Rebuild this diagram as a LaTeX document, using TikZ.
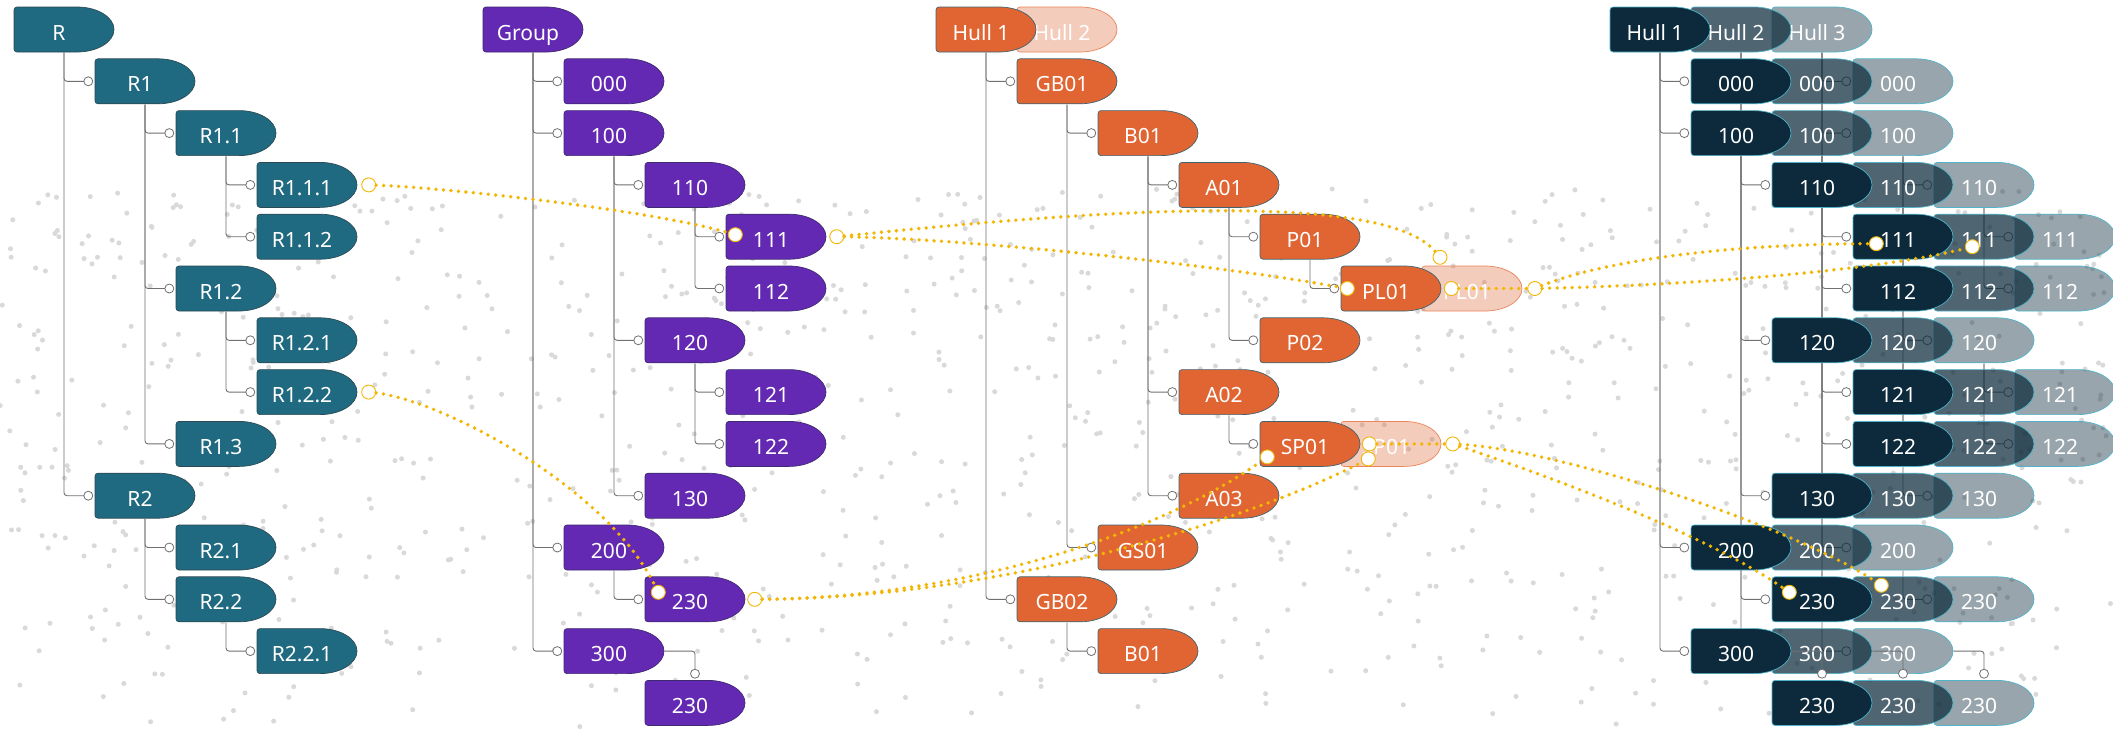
\documentclass[tikz,border=0pt]{standalone}
\usepackage{fontspec}
\usetikzlibrary{calc}
\newfontfamily\boxfont{Noto Sans}
\newcommand\boxtext{\boxfont\fontsize{21}{25}\selectfont}

\definecolor{tealbox}{HTML}{1F6A80}
\definecolor{tealedge}{HTML}{2C4A55}
\definecolor{purplebox}{HTML}{6429B2}
\definecolor{purpleedge}{HTML}{3E2A70}
\definecolor{orangebox}{HTML}{E06533}
\definecolor{orangeedge}{HTML}{3F6470}
\definecolor{ghostedge}{HTML}{EA855C}
\definecolor{navybox}{HTML}{0C2A3B}
\definecolor{navyedge}{HTML}{4FB4C9}
\definecolor{linkgray}{HTML}{707070}
\definecolor{dotyellow}{HTML}{F2B705}

\tikzset{
  box/.style n args={3}{minimum width=101pt, minimum height=46pt, inner sep=0pt,
    text=white, text height=21pt, text depth=0pt, font=\boxtext,
    execute at begin node={\hspace*{-10pt}},
    path picture={
      \coordinate (pc) at (path picture bounding box.center);
      \path[fill=#1, fill opacity=#3, draw=#2, line width=0.7pt]
        ($(pc)+(13pt,22.5pt)$) -- ($(pc)+(-47pt,22.5pt)$)
        .. controls ($(pc)+(-48.7pt,22.5pt)$) and ($(pc)+(-50pt,21.2pt)$) .. ($(pc)+(-50pt,19.5pt)$)
        -- ($(pc)+(-50pt,-19.5pt)$)
        .. controls ($(pc)+(-50pt,-21.2pt)$) and ($(pc)+(-48.7pt,-22.5pt)$) .. ($(pc)+(-47pt,-22.5pt)$)
        -- ($(pc)+(13pt,-22.5pt)$)
        .. controls ($(pc)+(33.4pt,-22.5pt)$) and ($(pc)+(50pt,-12.4pt)$) .. ($(pc)+(50pt,0pt)$)
        .. controls ($(pc)+(50pt,12.4pt)$) and ($(pc)+(33.4pt,22.5pt)$) .. cycle;}},
  teal box/.style={box={tealbox}{tealedge}{1}},
  purple box/.style={box={purplebox}{purpleedge}{1}},
  orange box/.style={box={orangebox}{orangeedge}{1}},
  ghost box/.style={box={orangebox}{ghostedge}{0.33}},
  hull box/.style={box={navybox}{navyedge}{#1}},
  hull box/.default=1,
  strong/.style={font=\boxtext\bfseries},
  link/.style={draw=linkgray, line width=0.9pt, rounded corners=3pt},
  port/.style={circle, draw=linkgray, fill=white, line width=0.8pt, inner sep=0pt, minimum size=9pt},
  yport/.style={circle, draw=dotyellow, fill=white, line width=0.9pt, inner sep=0pt, minimum size=14pt},
  yline/.style={draw=dotyellow, line width=3.8pt, line cap=round, dash pattern=on 0pt off 7.5pt},
  speck/.style={fill=black!15}
}

% child hangs off the parent's stem
\newcommand\treelink[2]{\draw[link] (#1.south) |- ([xshift=-6pt]#2.west) node[port] (#2-in) {};}
% child hangs off the parent's right tip
\newcommand\tiplink[2]{\draw[link] (#1.east) -| ([yshift=6pt]#2.north) node[port] (#2-in) {};}

\newcommand\hulltree[3]{%
  \node[#2] (#1-top) at (0,0) {#3};
  \node[#2] (#1-000) at (1,1) {000};
  \node[#2] (#1-100) at (1,2) {100};
  \node[#2] (#1-110) at (2,3) {110};
  \node[#2] (#1-111) at (3,4) {111};
  \node[#2] (#1-112) at (3,5) {112};
  \node[#2] (#1-120) at (2,6) {120};
  \node[#2] (#1-121) at (3,7) {121};
  \node[#2] (#1-122) at (3,8) {122};
  \node[#2] (#1-130) at (2,9) {130};
  \node[#2] (#1-200) at (1,10) {200};
  \node[#2] (#1-230) at (2,11) {230};
  \node[#2] (#1-300) at (1,12) {300};
  \node[#2] (#1-230b) at (2,13) {230};
  \treelink{#1-top}{#1-000}
  \treelink{#1-top}{#1-100}
  \treelink{#1-top}{#1-200}
  \treelink{#1-top}{#1-300}
  \treelink{#1-100}{#1-110}
  \treelink{#1-100}{#1-120}
  \treelink{#1-100}{#1-130}
  \treelink{#1-110}{#1-111}
  \treelink{#1-110}{#1-112}
  \treelink{#1-120}{#1-121}
  \treelink{#1-120}{#1-122}
  \treelink{#1-200}{#1-230}
  \tiplink{#1-300}{#1-230b}
}

\begin{document}
\begin{tikzpicture}[x=1pt, y=-1pt]
  %%%%% BACKGROUND %%%%%
  \fill[white] (0,0) rectangle (2113,729);
  \useasboundingbox (0,0) rectangle (2113,729);
  \pgfmathsetseed{729}
  \foreach \i in {1,...,1100}{
    \pgfmathsetmacro\px{2113*rnd}
    \pgfmathsetmacro\py{729-540*rnd^0.8}
    \fill[speck] (\px,\py) circle[radius=2.5pt];
  }

  %%%%% R TREE %%%%%
  \begin{scope}[shift={(64,29.5)}, x=81pt, y=-51.8pt]
    \node[teal box] (R) at (0,0) {R};
    \node[teal box] (R1) at (1,1) {R1};
    \node[teal box] (R11) at (2,2) {R1.1};
    \node[teal box] (R111) at (3,3) {R1.1.1};
    \node[teal box] (R112) at (3,4) {R1.1.2};
    \node[teal box] (R12) at (2,5) {R1.2};
    \node[teal box] (R121) at (3,6) {R1.2.1};
    \node[teal box] (R122) at (3,7) {R1.2.2};
    \node[teal box] (R13) at (2,8) {R1.3};
    \node[teal box] (R2) at (1,9) {R2};
    \node[teal box] (R21) at (2,10) {R2.1};
    \node[teal box] (R22) at (2,11) {R2.2};
    \node[teal box] (R221) at (3,12) {R2.2.1};
    \treelink{R}{R1}
    \treelink{R}{R2}
    \treelink{R1}{R11}
    \treelink{R1}{R12}
    \treelink{R1}{R13}
    \treelink{R11}{R111}
    \treelink{R11}{R112}
    \treelink{R12}{R121}
    \treelink{R12}{R122}
    \treelink{R2}{R21}
    \treelink{R2}{R22}
    \treelink{R22}{R221}
  \end{scope}

  %%%%% GROUP TREE %%%%%
  \begin{scope}[shift={(533,29.5)}, x=81pt, y=-51.8pt]
    \hulltree{g}{purple box}{Group}
  \end{scope}

  %%%%% HULL TREE (ORANGE) %%%%%
  \begin{scope}[shift={(986,29.5)}, x=81pt, y=-51.8pt]
    \node[ghost box] (o-hull2) at (1,0) {Hull 2};
    \node[ghost box, strong] (o-pl01g) at (6,5) {PL01};
    \node[ghost box, strong] (o-sp01g) at (5,8) {SP01};

    \node[orange box] (o-hull1) at (0,0) {Hull 1};
    \node[orange box] (o-gb01) at (1,1) {GB01};
    \node[orange box] (o-b01) at (2,2) {B01};
    \node[orange box] (o-a01) at (3,3) {A01};
    \node[orange box] (o-p01) at (4,4) {P01};
    \node[orange box, strong] (o-pl01) at (5,5) {PL01};
    \node[orange box] (o-p02) at (4,6) {P02};
    \node[orange box] (o-a02) at (3,7) {A02};
    \node[orange box, strong] (o-sp01) at (4,8) {SP01};
    \node[orange box] (o-a03) at (3,9) {A03};
    \node[orange box, strong] (o-gs01) at (2,10) {GS01};
    \node[orange box] (o-gb02) at (1,11) {GB02};
    \node[orange box] (o-b01b) at (2,12) {B01};
    \treelink{o-hull1}{o-gb01}
    \treelink{o-hull1}{o-gb02}
    \treelink{o-gb01}{o-b01}
    \treelink{o-gb01}{o-gs01}
    \treelink{o-b01}{o-a01}
    \treelink{o-b01}{o-a02}
    \treelink{o-b01}{o-a03}
    \treelink{o-a01}{o-p01}
    \treelink{o-a01}{o-p02}
    \treelink{o-p01}{o-pl01}
    \treelink{o-a02}{o-sp01}
    \treelink{o-gb02}{o-b01b}
  \end{scope}

  %%%%% HULL TREE (NAVY, 3 LAYERS) %%%%%
  \begin{scope}[shift={(1660,29.5)}, x=81pt, y=-51.8pt]
    \begin{scope}[xshift=162pt]
      \hulltree{h3}{hull box=0.42}{Hull 3}
    \end{scope}
    \begin{scope}[xshift=81pt]
      \hulltree{h2}{hull box=0.72}{Hull 2}
    \end{scope}
    \hulltree{h1}{hull box}{Hull 1}
  \end{scope}

  %%%%% YELLOW PORTS %%%%%
  \node[yport] (y-r111) at ([xshift=11pt]R111.east) {};
  \node[yport] (y-r122) at ([xshift=11pt]R122.east) {};
  \node[yport] (y-g111in) at ([xshift=10pt,yshift=2pt]g-111.west) {};
  \node[yport] (y-g111out) at ([xshift=10pt]g-111.east) {};
  \node[yport] (y-g230in) at ([xshift=14pt,yshift=7pt]g-230.west) {};
  \node[yport] (y-g230out) at ([xshift=9pt]g-230.east) {};
  \node[yport] (y-pl01in) at ([xshift=7pt]o-pl01.west) {};
  \node[yport] (y-pl01gtop) at ([xshift=-32pt,yshift=8pt]o-pl01g.north) {};
  \node[yport] (y-pl01gin) at ([xshift=30pt]o-pl01g.west) {};
  \node[yport] (y-pl01gout) at ([xshift=12pt]o-pl01g.east) {};
  \node[yport] (y-sp01in) at ([xshift=8pt,yshift=-13pt]o-sp01.west) {};
  \node[yport] (y-sp01gin) at ([xshift=28pt,yshift=-15pt]o-sp01g.west) {};
  \node[yport] (y-sp01gmid) at ([xshift=29pt]o-sp01g.west) {};
  \node[yport] (y-sp01gout) at ([xshift=11pt]o-sp01g.east) {};
  \node[yport] (y-h1-111) at ([xshift=24pt,yshift=-7pt]h1-111.west) {};
  \node[yport] (y-h2-111) at ([xshift=39pt,yshift=-10pt]h2-111.west) {};
  \node[yport] (y-h1-230) at ([xshift=18pt,yshift=7pt]h1-230.west) {};
  \node[yport] (y-h2-230) at ([xshift=29pt,yshift=14pt]h2-230.west) {};

  %%%%% YELLOW LINKS %%%%%
  \draw[yline] (y-r111) .. controls (450,188) and (650,210) .. (y-g111in);
  \draw[yline] (y-r122) .. controls (440,400) and (605,485) .. (y-g230in);
  \draw[yline] (y-g111out) .. controls (950,238) and (1200,262) .. (y-pl01in);
  \draw[yline] (y-g111out) .. controls (1050,215) and (1380,185) .. (y-pl01gtop);
  \draw[yline] (y-pl01gin) -- (y-pl01gout);
  \draw[yline] (y-pl01gout) .. controls (1600,262) and (1720,244) .. (y-h1-111);
  \draw[yline] (y-pl01gout) .. controls (1700,285) and (1880,270) .. (y-h2-111);
  \draw[yline] (y-g230out) .. controls (950,598) and (1150,540) .. (y-sp01in);
  \draw[yline] (y-g230out) .. controls (1000,598) and (1250,520) .. (y-sp01gin);
  \draw[yline] (y-sp01gmid) -- (y-sp01gout);
  \draw[yline] (y-sp01gout) .. controls (1560,450) and (1790,525) .. (y-h2-230);
  \draw[yline] (y-sp01gout) .. controls (1530,470) and (1700,530) .. (y-h1-230);
\end{tikzpicture}
\end{document}
